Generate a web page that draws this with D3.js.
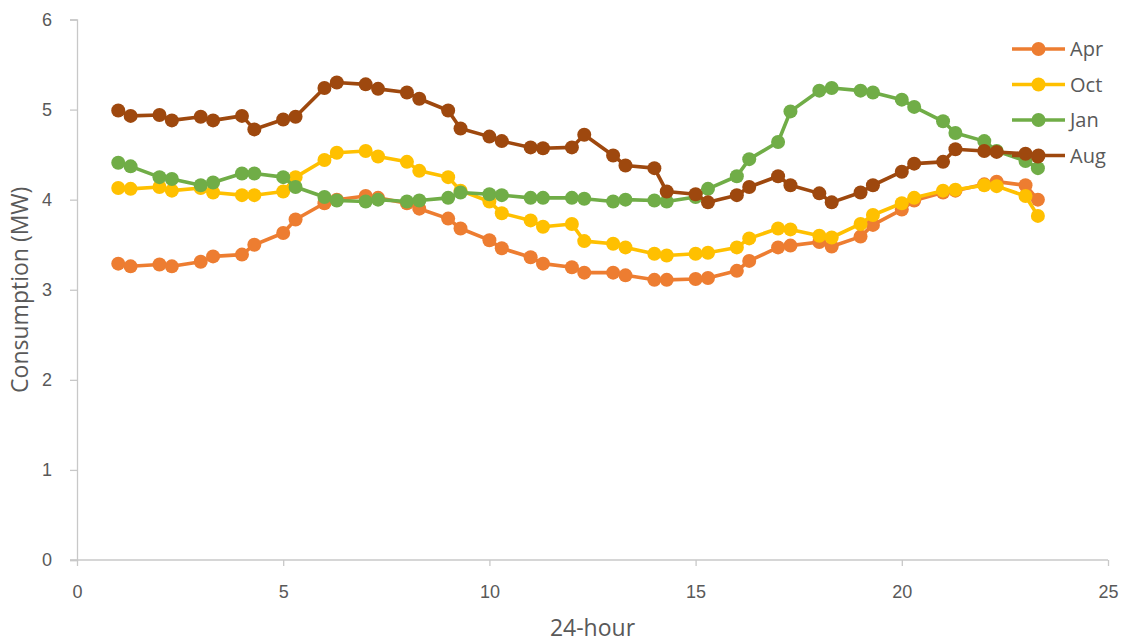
<!DOCTYPE html>
<html>
<head>
<meta charset="utf-8">
<script src="https://cdn.jsdelivr.net/npm/d3@7/dist/d3.min.js"></script>
<style>
  html, body { margin: 0; padding: 0; background: #fff; }
  svg { display: block; font-family: "Open Sans", "Noto Sans", sans-serif; }
</style>
</head>
<body>
<svg id="chart" width="1126" height="642"></svg>
<script>
// Half-hourly readings, hour written as h.mm (1.00, 1.30, 2.00, ...)
const hours = [1, 1.3, 2, 2.3, 3, 3.3, 4, 4.3, 5, 5.3, 6, 6.3, 7, 7.3, 8, 8.3, 9, 9.3,
  10, 10.3, 11, 11.3, 12, 12.3, 13, 13.3, 14, 14.3, 15, 15.3, 16, 16.3, 17, 17.3,
  18, 18.3, 19, 19.3, 20, 20.3, 21, 21.3, 22, 22.3, 23, 23.3];

const apr = [3.29, 3.26, 3.28, 3.26, 3.31, 3.37, 3.39, 3.50, 3.63, 3.78, 3.96, 4.00,
  4.04, 4.02, 3.96, 3.90, 3.79, 3.68, 3.55, 3.46, 3.36, 3.29, 3.25, 3.19,
  3.19, 3.16, 3.11, 3.11, 3.12, 3.13, 3.21, 3.32, 3.47, 3.49, 3.53, 3.48,
  3.59, 3.72, 3.89, 3.99, 4.08, 4.10, 4.17, 4.20, 4.16, 4.00];

const oct = [4.13, 4.12, 4.14, 4.10, 4.13, 4.08, 4.05, 4.05, 4.09, 4.25, 4.44, 4.52,
  4.54, 4.48, 4.42, 4.32, 4.25, 4.10, 3.98, 3.85, 3.77, 3.70, 3.73, 3.54,
  3.51, 3.47, 3.40, 3.38, 3.40, 3.41, 3.47, 3.57, 3.68, 3.67, 3.60, 3.58,
  3.73, 3.83, 3.96, 4.02, 4.10, 4.11, 4.16, 4.15, 4.04, 3.82];

const jan = [4.41, 4.37, 4.25, 4.23, 4.16, 4.19, 4.29, 4.29, 4.25, 4.14, 4.03, 3.99,
  3.98, 4.00, 3.98, 3.99, 4.02, 4.08, 4.06, 4.05, 4.02, 4.02, 4.02, 4.01,
  3.98, 4.00, 3.99, 3.98, 4.03, 4.12, 4.26, 4.45, 4.64, 4.98, 5.21, 5.24,
  5.21, 5.19, 5.11, 5.03, 4.87, 4.74, 4.65, 4.54, 4.43, 4.35];

const aug = [4.99, 4.93, 4.94, 4.88, 4.92, 4.88, 4.93, 4.78, 4.89, 4.92, 5.24, 5.30,
  5.28, 5.23, 5.19, 5.12, 4.99, 4.79, 4.70, 4.65, 4.58, 4.57, 4.58, 4.72,
  4.49, 4.38, 4.35, 4.09, 4.06, 3.97, 4.05, 4.14, 4.26, 4.16, 4.07, 3.97,
  4.08, 4.16, 4.31, 4.40, 4.42, 4.56, 4.54, 4.53, 4.51, 4.48];

const seriesNames = ["Apr", "Oct", "Jan", "Aug"];
const seriesValues = [apr, oct, jan, aug];
const seriesColors = ["#ED7D31", "#FFC000", "#70AD47", "#9E480E"];

const xTicks = [0, 5, 10, 15, 20, 25];
const yTicks = [0, 1, 2, 3, 4, 5, 6];

const svg = d3.select("#chart");
const textColor = "#595959";
const axisColor = "#C8C8C8";

const x = d3.scaleLinear().domain([0, 25]).range([77, 1108]);
const y = d3.scaleLinear().domain([0, 6]).range([560, 19.5]);

// Axes
const xAxis = svg.append("g")
  .attr("transform", `translate(0,${y(0)})`)
  .call(d3.axisBottom(x).tickValues(xTicks).tickSize(6).tickPadding(19).tickFormat(d3.format("d")));
const yAxis = svg.append("g")
  .attr("transform", `translate(${x(0)},0)`)
  .call(d3.axisLeft(y).tickValues(yTicks).tickSize(7).tickPadding(18).tickFormat(d3.format("d")));

[xAxis, yAxis].forEach(g => {
  g.select(".domain").attr("stroke", axisColor).attr("stroke-width", 1.3);
  g.selectAll(".tick line").attr("stroke", axisColor).attr("stroke-width", 1.3);
  g.selectAll(".tick text").attr("fill", textColor).style("font-size", "18px");
});
xAxis.select(".domain").attr("d", `M${x(0) - 7},0H${x(25)}`);

// Axis titles
svg.append("text")
  .attr("x", (x(0) + x(25)) / 2)
  .attr("y", 636)
  .attr("text-anchor", "middle")
  .attr("fill", textColor)
  .style("font-size", "23px")
  .text("24-hour");

svg.append("text")
  .attr("transform", `translate(28,${(y(0) + y(6)) / 2}) rotate(-90)`)
  .attr("text-anchor", "middle")
  .attr("fill", textColor)
  .style("font-size", "23px")
  .text("Consumption (MW)");

// Series: line plus circular markers
const line = d3.line()
  .x((d, i) => x(hours[i]))
  .y(d => y(d));

seriesValues.forEach((vals, s) => {
  const g = svg.append("g");
  g.append("path")
    .datum(vals)
    .attr("fill", "none")
    .attr("stroke", seriesColors[s])
    .attr("stroke-width", 3.6)
    .attr("stroke-linejoin", "round")
    .attr("d", line);
  g.selectAll("circle")
    .data(vals)
    .join("circle")
    .attr("cx", (d, i) => x(hours[i]))
    .attr("cy", d => y(d))
    .attr("r", 7)
    .attr("fill", seriesColors[s]);
});

// Legend
const legend = svg.append("g");
seriesNames.forEach((name, s) => {
  const ly = 49 + s * 35.5;
  legend.append("line")
    .attr("x1", 1012).attr("x2", 1065)
    .attr("y1", ly).attr("y2", ly)
    .attr("stroke", seriesColors[s])
    .attr("stroke-width", 3.6);
  legend.append("circle")
    .attr("cx", 1038.5).attr("cy", ly).attr("r", 7)
    .attr("fill", seriesColors[s]);
  legend.append("text")
    .attr("x", 1070).attr("y", ly)
    .attr("dy", "0.35em")
    .attr("fill", textColor)
    .style("font-size", "20px")
    .text(name);
});
</script>
</body>
</html>
